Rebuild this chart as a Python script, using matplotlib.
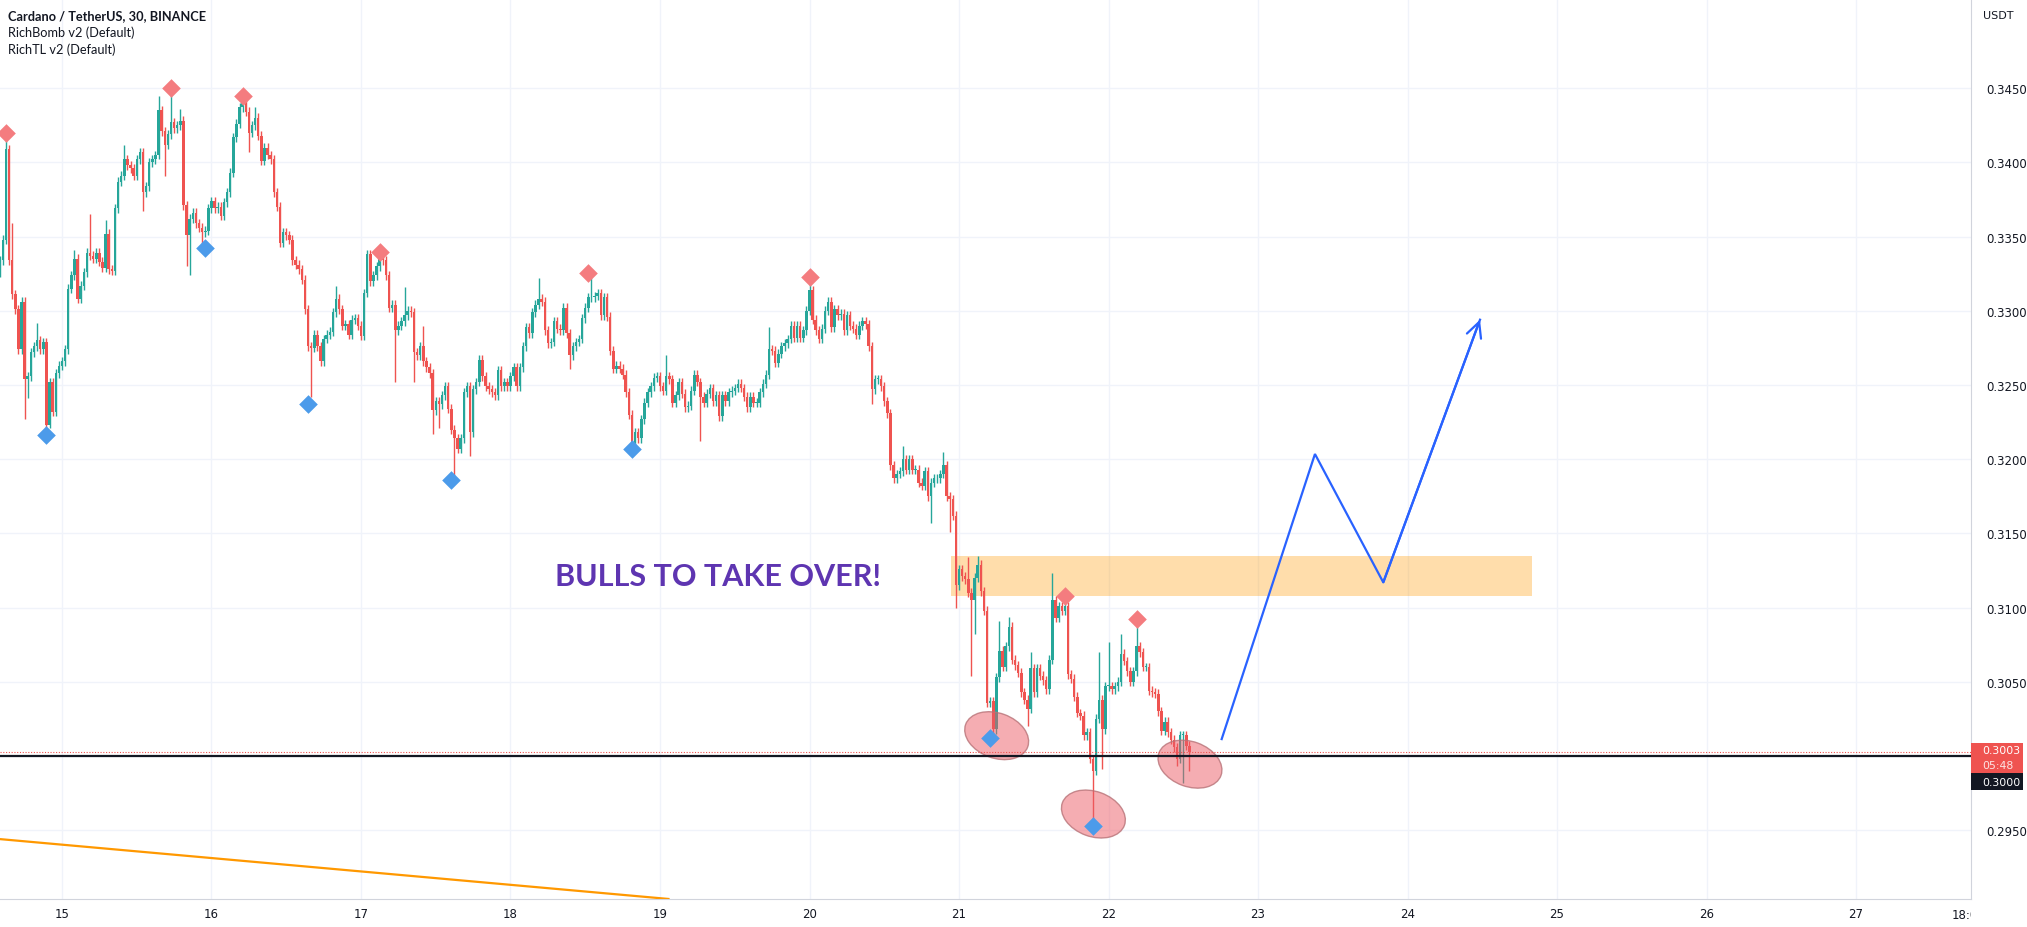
import numpy as np
import matplotlib
matplotlib.use('Agg')
import matplotlib.pyplot as plt
from matplotlib.patches import Rectangle, Ellipse
from matplotlib import transforms

# ADA/USDT 30 min candles, closes in 0.0001 USDT, first candle = 14th 14:00
first_open = 3326
closes = [
    3334, 3348, 3409, 3334, 3311, 3301, 3274, 3306, 3254, 3256,
    3272, 3276, 3280, 3274, 3279, 3223, 3252, 3232, 3258, 3263,
    3266, 3274, 3315, 3324, 3335, 3308, 3317, 3326, 3339, 3337,
    3335, 3339, 3333, 3329, 3352, 3328, 3327, 3369, 3387, 3391,
    3402, 3398, 3396, 3391, 3402, 3407, 3380, 3384, 3400, 3402,
    3405, 3435, 3421, 3412, 3419, 3427, 3423, 3425, 3428, 3371,
    3351, 3362, 3366, 3359, 3356, 3353, 3354, 3369, 3374, 3369,
    3370, 3364, 3373, 3380, 3393, 3417, 3426, 3437, 3443, 3434,
    3420, 3425, 3430, 3418, 3401, 3410, 3405, 3402, 3380, 3370,
    3346, 3353, 3351, 3348, 3334, 3331, 3328, 3321, 3301, 3276,
    3275, 3284, 3276, 3266, 3281, 3284, 3286, 3299, 3308, 3301,
    3290, 3291, 3284, 3294, 3295, 3290, 3283, 3312, 3338, 3320,
    3324, 3330, 3338, 3334, 3324, 3302, 3304, 3287, 3290,
    3293, 3297, 3300, 3299, 3272, 3270, 3276, 3266, 3262, 3258,
    3233, 3239, 3237, 3243, 3249, 3234, 3220, 3214, 3207, 3214,
    3245, 3249, 3218, 3247, 3252, 3267, 3256, 3249, 3247, 3245,
    3243, 3260, 3249, 3252, 3249, 3256, 3262, 3249, 3262, 3276,
    3289, 3285, 3299, 3304, 3308, 3306, 3287, 3278, 3279, 3293,
    3288, 3287, 3302, 3285, 3270, 3276, 3279, 3281, 3295, 3302,
    3309, 3309, 3310, 3312, 3297, 3309, 3296, 3273, 3261, 3263,
    3261, 3257, 3245, 3230, 3211, 3218, 3214, 3227, 3238, 3245,
    3249, 3255, 3256, 3249, 3246, 3256, 3254, 3238, 3243, 3252,
    3244, 3235, 3236, 3246, 3257, 3252, 3242, 3238, 3244, 3248,
    3239, 3243, 3229, 3243, 3239, 3245, 3246, 3248, 3251, 3248,
    3242, 3235, 3242, 3238, 3238, 3245, 3251, 3257, 3274, 3273,
    3265, 3271, 3276, 3278, 3281, 3290, 3282, 3290, 3282, 3287,
    3300, 3314, 3294, 3287, 3281, 3288, 3300, 3306, 3289, 3301,
    3297, 3298, 3287, 3297, 3290, 3288, 3284, 3290, 3293, 3291,
    3276, 3247, 3254, 3254, 3249, 3239, 3231, 3196, 3187, 3190,
    3192, 3200, 3193, 3200, 3193, 3193, 3184, 3182, 3192, 3175,
    3184, 3187, 3187, 3190, 3196, 3175, 3173, 3162, 3115, 3126,
    3121, 3119, 3110, 3105, 3120, 3129, 3111, 3098, 3036, 3037,
    3018, 3053, 3071, 3060, 3074, 3087, 3065, 3061, 3056, 3043,
    3038, 3032, 3059, 3043, 3059, 3054, 3051, 3045, 3065, 3105,
    3093, 3101, 3098, 3101, 3055, 3052, 3040, 3029, 3027, 3014,
    3016, 2998, 2990, 3025, 3038, 3018, 3047, 3047, 3045, 3047,
    3050, 3069, 3064, 3057, 3050, 3057, 3074, 3070, 3060, 3060,
    3044, 3043, 3042, 3030, 3017, 3023, 3016, 3011, 3006, 2998,
    3014, 3014, 3007, 3003,
]
# long wicks (candle index: price)
wick_high = {2: 3419, 4: 3359, 12: 3292, 24: 3341, 29: 3365, 34: 3361, 40: 3412,
             51: 3445, 55: 3450, 58: 3436, 78: 3446, 82: 3437, 108: 3317, 118: 3341,
             122: 3342, 130: 3316, 136: 3290, 173: 3322, 190: 3325, 214: 3270,
             247: 3289, 260: 3322, 290: 3209, 303: 3205, 311: 3134, 314: 3135,
             321: 3091, 324: 3094, 331: 3070, 338: 3123, 342: 3106, 353: 3070,
             356: 3077, 360: 3082, 365: 3091}
wick_low = {8: 3227, 9: 3241, 15: 3219, 16: 3221, 46: 3367, 53: 3391, 60: 3330,
            61: 3324, 65: 3345, 80: 3407, 100: 3242, 127: 3252, 133: 3252, 139: 3217,
            141: 3221, 146: 3189, 151: 3202, 183: 3261, 203: 3208, 225: 3212,
            280: 3237, 299: 3157, 305: 3151, 307: 3100, 312: 3054, 313: 3082,
            319: 3014, 330: 3020, 351: 2956, 354: 2991, 378: 2993, 380: 2982, 382: 2990}

# RichBomb pivot diamonds (candle index, price)
red_idx = [2, 55, 78, 122, 189, 260, 342, 365]
red_px = [0.34195, 0.3450, 0.34448, 0.33394, 0.33254, 0.33228, 0.31077, 0.30920]
blue_idx = [15, 66, 99, 145, 203, 318, 351]
blue_px = [0.32166, 0.33420, 0.32375, 0.31861, 0.32070, 0.30119, 0.29527]

# price scale labels (0.3000 sits under the price tags)
ytick_vals = [0.2950, 0.3050, 0.3100, 0.3150, 0.3200, 0.3250, 0.3300, 0.3350,
              0.3400, 0.3450]
day_ticks = list(range(15, 28))

# drawings (day, price)
zone = (20.944, 24.835, 0.3108, 0.3135)
path_t = [22.757, 23.381, 23.838, 24.485]
path_p = [0.30114, 0.32035, 0.31170, 0.32940]
trend_t = [14.585, 19.064]
trend_p = [0.2944, 0.29036]
ell_t = [21.252, 21.899, 22.545]
ell_p = [0.30137, 0.29609, 0.29945]
last_price = 0.3003
level = 0.3000

t0 = 14 + 14 / 24.
UP, DOWN = '#26A69A', '#EF5350'

c = np.array(closes) / 1e4
o = np.concatenate([[first_open / 1e4], c[:-1]])
t = t0 + np.arange(len(c)) / 48.
wick = 0.0003
hi = np.maximum(o, c) + wick
lo = np.minimum(o, c) - wick
for k, v in wick_high.items():
    hi[k] = v / 1e4
for k, v in wick_low.items():
    lo[k] = v / 1e4
col = np.where(c >= o, UP, DOWN)

fig = plt.figure(figsize=(20.27, 9.28), dpi=100)
ax = fig.add_axes([0, 28 / 928, 1971 / 2027, 900 / 928])
ax.set_xlim(14.5853, 27.7692)
ax.set_ylim(0.290364, 0.351011)

# grid
for d in day_ticks:
    ax.axvline(d, color='#F0F3FA', lw=1, zorder=0)
for p in np.arange(0.2950, 0.3451, 0.005):
    ax.axhline(p, color='#F0F3FA', lw=1, zorder=0)

ax.add_patch(Rectangle((zone[0], zone[2]), zone[1] - zone[0], zone[3] - zone[2],
                       facecolor='#FF9800', alpha=0.33, edgecolor='none', zorder=1))

ax.vlines(t, lo, hi, colors=col, lw=1.0, zorder=2)
ax.bar(t, np.maximum(np.abs(c - o), 0.00006), bottom=np.minimum(o, c), width=0.8 / 48,
       color=col, linewidth=0, zorder=3)

ax.plot(trend_t, trend_p, color='#FF9800', lw=1.6, zorder=3, solid_capstyle='butt')

for et, ep in zip(ell_t, ell_p):
    tr = fig.dpi_scale_trans + transforms.ScaledTranslation(et, ep, ax.transData)
    ax.add_patch(Ellipse((0, 0), 0.66, 0.45, angle=-20, transform=tr,
                         facecolor=(0.93, 0.36, 0.40, 0.5),
                         edgecolor=(0.72, 0.45, 0.47, 0.8), lw=1, zorder=4))

ax.scatter(t0 + np.array(red_idx) / 48., red_px, marker='D', s=90, color='#F47C7F',
           linewidths=0, zorder=5)
ax.scatter(t0 + np.array(blue_idx) / 48., blue_px, marker='D', s=90, color='#4C9BEA',
           linewidths=0, zorder=5)

ax.axhline(last_price, color=DOWN, lw=0.8, ls=(0, (1, 1.5)), zorder=6)
ax.axhline(level, color='#131722', lw=1.6, zorder=6)

ax.plot(path_t, path_p, color='#2962FF', lw=1.6, zorder=7, solid_joinstyle='miter')
ax.annotate('', xy=(path_t[-1], path_p[-1]), xytext=(path_t[-2], path_p[-2]),
            arrowprops=dict(arrowstyle='->,head_length=0.9,head_width=0.45', color='#2962FF',
                            lw=1.6, shrinkA=0, shrinkB=0, mutation_scale=12), zorder=7)

ax.text(18.298, 0.3121, 'BULLS TO TAKE OVER!', color='#5E35B1', fontsize=22,
        fontweight='bold', family='Lato', ha='left', va='center', zorder=8)

# axes look
for s in ['top', 'left']:
    ax.spines[s].set_visible(False)
for s in ['right', 'bottom']:
    ax.spines[s].set_color('#D1D4DC')
ax.yaxis.tick_right()
ax.set_yticks(ytick_vals)
ax.set_yticklabels(['%.4f' % v for v in ytick_vals])
ax.set_xticks(day_ticks)
ax.set_xticklabels([str(d) for d in day_ticks])
ax.tick_params(axis='y', length=0, pad=11, labelsize=8.5, labelcolor='#131722')
ax.tick_params(axis='x', length=0, pad=6, labelsize=8.5, labelcolor='#131722')

lab = ax.text(27.75, -0.0167, '18:00', transform=transforms.blended_transform_factory(
    ax.transData, ax.transAxes), ha='center', va='center', fontsize=8.5, color='#131722')
lab.set_clip_box(transforms.TransformedBbox(
    transforms.Bbox([[0, 0], [1971 / 2027, 1]]), fig.transFigure))
lab.set_clip_on(True)

# price tags on the scale (figure level so they sit above the axis)
bt = transforms.blended_transform_factory(fig.transFigure, ax.transData)
x_ax = 1971 / 2027
tr = fig.dpi_scale_trans + transforms.ScaledTranslation(x_ax, last_price, bt)
fig.add_artist(Rectangle((0, -0.217), 0.52, 0.30, transform=tr, facecolor=DOWN,
                         edgecolor='none', zorder=5))
fig.add_artist(Rectangle((0, -0.387), 0.52, 0.17, transform=tr, facecolor='#131722',
                         edgecolor='none', zorder=5))
for txt, dy, colr in [('%.4f' % last_price, 1.5, 'white'), ('05:48', -13.5, '#FCE4E4'),
                      ('%.4f' % level, -30, 'white')]:
    fig.text(x_ax, last_price, txt, ha='left', va='center', fontsize=7.8, color=colr,
             transform=transforms.offset_copy(bt, fig=fig, x=11, y=dy, units='dots'),
             zorder=6)

fig.text(1983 / 2027, 1 - 16 / 928, 'USDT', fontsize=8, color='#131722', va='center')
fig.text(8 / 2027, 1 - 16 / 928, 'Cardano / TetherUS, 30, BINANCE', fontsize=9.2,
         fontweight='bold', family='Lato', color='#131722', va='center')
fig.text(8 / 2027, 1 - 33 / 928, 'RichBomb v2 (Default)', fontsize=9.2, family='Lato',
         color='#131722', va='center')
fig.text(8 / 2027, 1 - 50 / 928, 'RichTL v2 (Default)', fontsize=9.2, family='Lato',
         color='#131722', va='center')

fig.savefig('out.png', dpi=100, facecolor='white')
